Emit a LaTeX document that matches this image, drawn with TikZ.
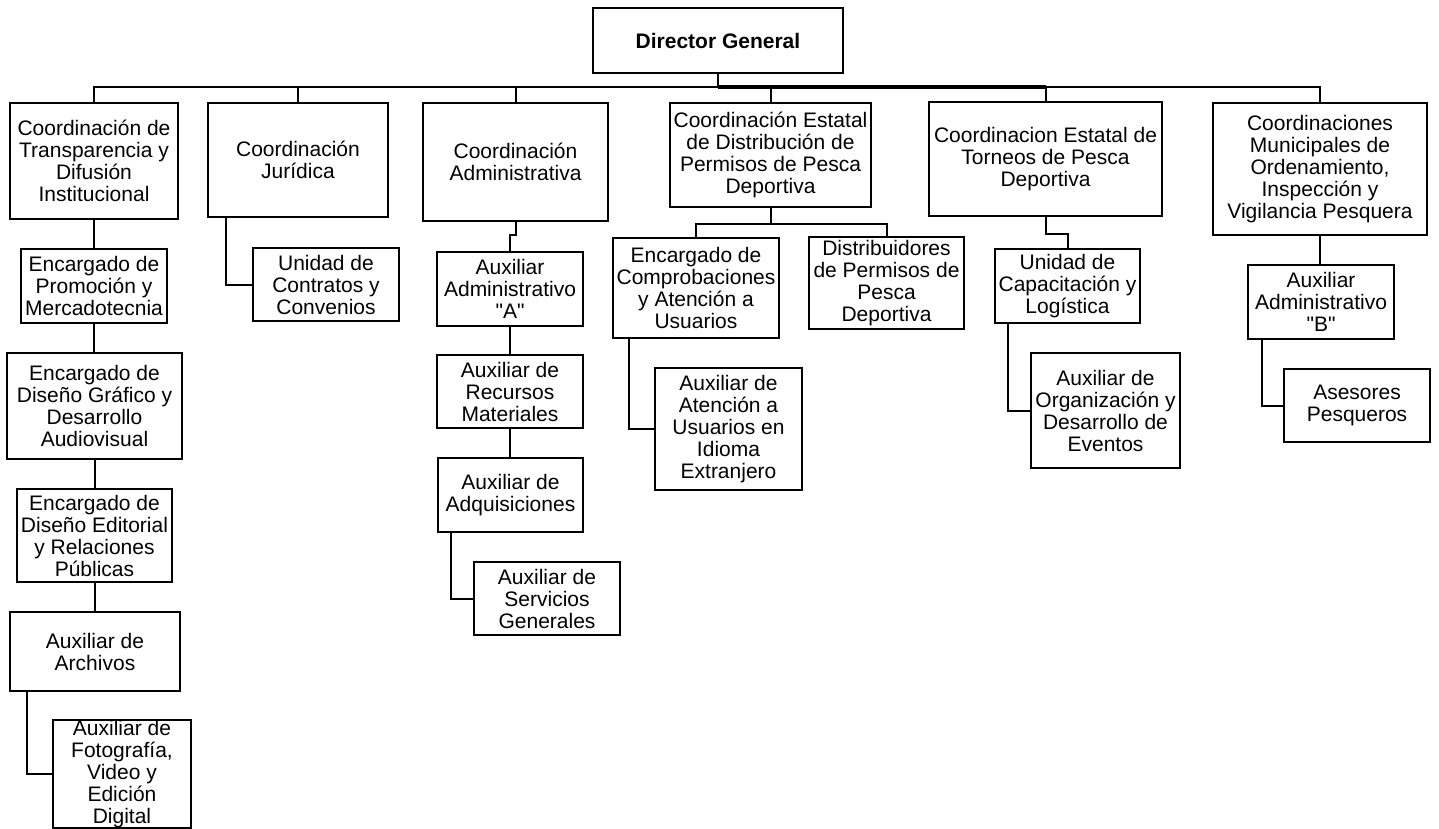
\documentclass[tikz,border=0pt]{standalone}
\usepackage{fontspec}
\setmainfont{Liberation Sans}
\usetikzlibrary{calc}
\begin{document}
\begin{tikzpicture}[x=1pt,y=-1pt,
  bx/.style={draw, line width=2pt, align=center, inner sep=0pt, font=\fontsize{21}{22}\selectfont},
  ln/.style={line width=2pt},
  thk/.style={line width=3.2pt}]
\useasboundingbox (0,0) rectangle (1439,829);
% top
\node[bx, minimum width=250, minimum height=65, font=\fontsize{21}{22}\selectfont\bfseries] (dg) at (718,40.5) {Director General};
\node[bx, minimum width=168, minimum height=116] (c1) at (94,161) {Coordinación de\\Transparencia y\\Difusión\\Institucional};
\node[bx, minimum width=180, minimum height=114] (c2) at (298,160) {Coordinación\\Jurídica};
\node[bx, minimum width=185, minimum height=118] (c3) at (515.5,162) {Coordinación\\Administrativa};
\node[bx, minimum width=201, minimum height=104] (c4) at (770.5,155) {Coordinación Estatal\\de Distribución de\\Permisos de Pesca\\Deportiva};
\node[bx, minimum width=233, minimum height=114] (c5) at (1045.5,159) {Coordinacion Estatal de\\Torneos de Pesca\\Deportiva};
\node[bx, minimum width=214, minimum height=132] (c6) at (1320,169) {Coordinaciones\\Municipales de\\Ordenamiento,\\Inspección y\\Vigilancia Pesquera};
% column 1
\node[bx, minimum width=146, minimum height=74] (e1) at (94,286) {Encargado de\\Promoción y\\Mercadotecnia};
\node[bx, minimum width=175, minimum height=106] (e2) at (94.5,406) {Encargado de\\Diseño Gráfico y\\Desarrollo\\Audiovisual};
\node[bx, minimum width=155, minimum height=93] (e3) at (94.5,535.5) {Encargado de\\Diseño Editorial\\y Relaciones\\Públicas};
\node[bx, minimum width=170, minimum height=79] (e4) at (95,651.5) {Auxiliar de\\Archivos};
\node[bx, minimum width=138, minimum height=108] (e5) at (122,774) {Auxiliar de\\Fotografía,\\Video y\\Edición\\Digital};
% column 2
\node[bx, minimum width=146, minimum height=73] (u1) at (326,284.5) {Unidad de\\Contratos y\\Convenios};
% column 3
\node[bx, minimum width=146, minimum height=74] (a1) at (510,289) {Auxiliar\\Administrativo\\\textquotedbl A\textquotedbl};
\node[bx, minimum width=146, minimum height=73] (a2) at (510,391.5) {Auxiliar de\\Recursos\\Materiales};
\node[bx, minimum width=145, minimum height=74] (a3) at (510.5,495) {Auxiliar de\\Adquisiciones};
\node[bx, minimum width=146, minimum height=73] (a4) at (547,598.5) {Auxiliar de\\Servicios\\Generales};
% column 4
\node[bx, minimum width=166, minimum height=100] (d1) at (696,288) {Encargado de\\Comprobaciones\\y Atención a\\Usuarios};
\node[bx, minimum width=155, minimum height=92] (d2) at (886.5,283) {Distribuidores\\de Permisos de\\Pesca\\Deportiva};
\node[bx, minimum width=147, minimum height=122] (d3) at (728.5,429) {Auxiliar de\\Atención a\\Usuarios en\\Idioma\\Extranjero};
% column 5
\node[bx, minimum width=145, minimum height=74] (t1) at (1067.5,286) {Unidad de\\Capacitación y\\Logística};
\node[bx, minimum width=149, minimum height=115] (t2) at (1105.5,410.5) {Auxiliar de\\Organización y\\Desarrollo de\\Eventos};
% column 6
\node[bx, minimum width=146, minimum height=74] (m1) at (1321,302) {Auxiliar\\Administrativo\\\textquotedbl B\textquotedbl};
\node[bx, minimum width=146, minimum height=73] (m2) at (1357,405.5) {Asesores\\Pesqueros};
% connectors
\coordinate (bus) at (0,87);
\draw[ln] (dg.south) -- (dg.south |- bus);
\draw[ln] (c1.north) -- (c1.north |- bus) -| (c6.north);
\draw[thk] (dg.south |- bus) -- (c5.north |- bus);
\foreach \n in {c2,c3,c4,c5} \draw[ln] (\n.north) -- (\n.north |- bus);
\draw[ln] (c1.south) -- (c1.south |- e1.north);
\draw[ln] (e1.south) -- (e1.south |- e2.north);
\draw[ln] (e2.south) -- (e2.south |- e3.north);
\draw[ln] (e3.south) -- (e3.south |- e4.north);
\draw[ln] ([xshift=18pt]e4.south west) |- (e5.west);
\draw[ln] ([xshift=19pt]c2.south west) |- (u1.west);
\draw[ln] (c3.south) -- ++(0,13) -| (a1.north);
\draw[ln] (a1.south) -- (a1.south |- a2.north);
\draw[ln] (a2.south) -- (a2.south |- a3.north);
\draw[ln] ([xshift=14pt]a3.south west) |- (a4.west);
\draw[ln] (c4.south) -- ++(0,16) coordinate (cb) -| (d1.north);
\draw[ln] (cb) -| (d2.north);
\draw[ln] ([xshift=17pt]d1.south west) |- (d3.west);
\draw[ln] (c5.south) -- ++(0,17) -| (t1.north);
\draw[ln] ([xshift=14pt]t1.south west) |- (t2.west);
\draw[ln] (c6.south) -- (c6.south |- m1.north);
\draw[ln] ([xshift=15pt]m1.south west) |- (m2.west);
\end{tikzpicture}
\end{document}
